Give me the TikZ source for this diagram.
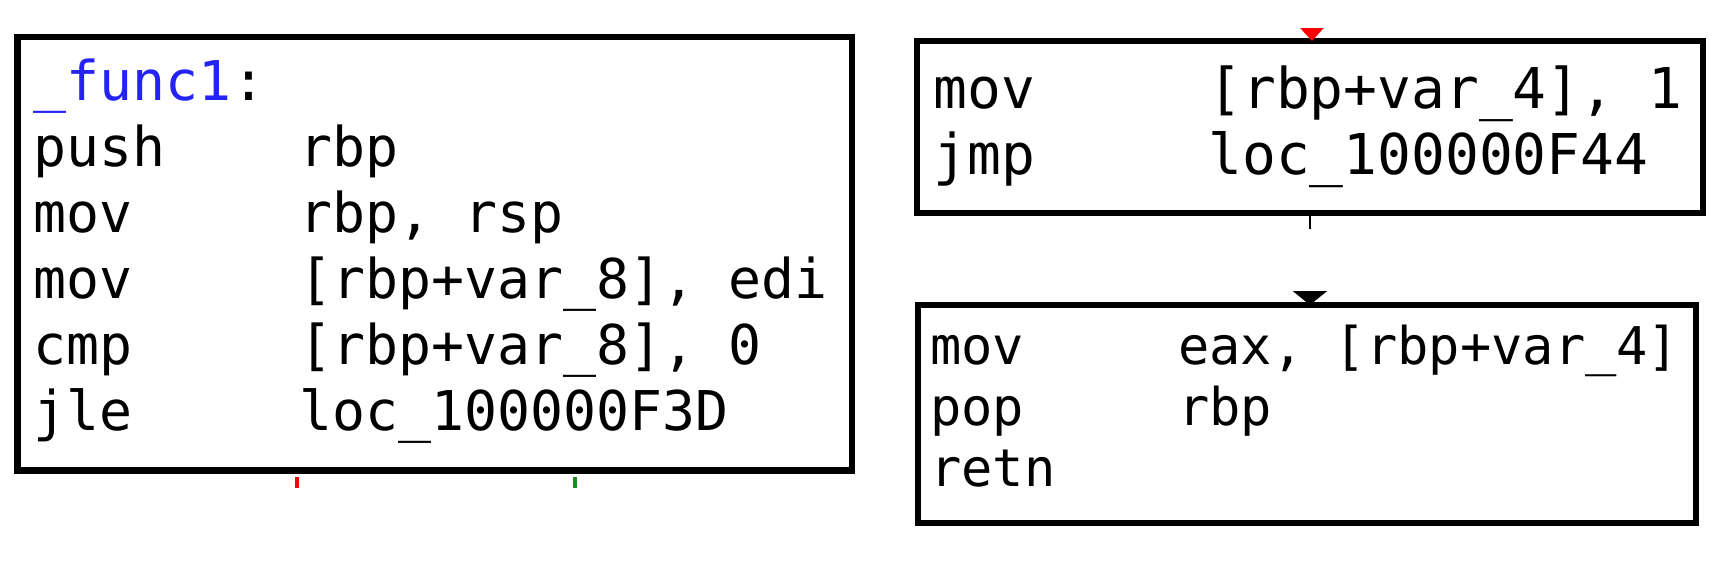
\documentclass[tikz,border=0pt]{standalone}
\usepackage{fontspec}
\setmonofont{DejaVu Sans Mono}
\usetikzlibrary{arrows.meta,calc}
\definecolor{idablue}{RGB}{35,35,245}
\definecolor{idagreen}{RGB}{30,140,30}
\tikzset{
	blk/.style={draw, line width=0.13cm, inner sep=0pt, outer sep=0pt, anchor=north west},
	ins/.style={anchor=base west, inner sep=0pt, font=\ttfamily\fontsize{32}{38}\selectfont},
	insleft/.style={ins, font=\ttfamily\fontsize{31.2}{37}\selectfont},
	inssmall/.style={ins, font=\ttfamily\fontsize{29.6}{36}\selectfont},
	edge/.style={line width=0.05cm},
	stub/.style={line width=0.07cm},
}
\begin{document}
\begin{tikzpicture}[x=0.02cm, y=-0.02cm, >=stealth, line join=miter]
	\useasboundingbox (0,0) rectangle (1736,569);
	% blocks
	\node[blk, minimum width=16.69cm, minimum height=8.67cm] (entry) at (17.5,37) {};
	\node[blk, minimum width=15.72cm, minimum height=3.44cm] (settop) at (917,41) {};
	\node[blk, minimum width=15.56cm, minimum height=4.36cm] (ret) at (918,305) {};
	% entry block
	\node[insleft, text=idablue] (entry-lbl) at (33,100) {\_func1};
	\node[insleft] (entry-colon) at (entry-lbl.base east) {:};
	\foreach \m/\o [count=\i] in {push/rbp, mov/{rbp, rsp}, mov/{[rbp+var\_8], edi},
		cmp/{[rbp+var\_8], 0}, jle/loc\_100000F3D}
	\node[insleft] (entry-m\i) at (33,100+66*\i) {\m} node[insleft] (entry-o\i) at (299,100+66*\i) {\o};
	% set block
	\foreach \m/\o [count=\i] in {mov/{[rbp+var\_4], 1}, jmp/loc\_100000F44}
	\node[ins] (settop-m\i) at (933,108+66*\i-66) {\m} node[ins] (settop-o\i) at (1208,108+66*\i-66) {\o};
	% return block
	\foreach \m/\o [count=\i] in {mov/{eax, [rbp+var\_4]}, pop/rbp, retn/{}}
	\node[inssmall] (ret-m\i) at (930,364+61*\i-61) {\m} node[inssmall] (ret-o\i) at (1178,364+61*\i-61) {\o};
	% edges
	\draw[edge, red, -{Triangle[width=0.46cm,length=0.26cm]}] ($(settop.north)+(2,-13)$) -- ($(settop.north)+(2,0)$);
	\draw[edge, dash pattern=on 0.32cm off 3cm, -{Triangle[width=0.68cm,length=0.28cm]}] (settop.south) -- (settop.south |- ret.north);
	\draw[stub, red] ($(entry.south west)+(279.5,6.5)$) -- ++(0,11);
	\draw[stub, idagreen] ($(entry.south west)+(557.5,6.5)$) -- ++(0,11);
\end{tikzpicture}
\end{document}
